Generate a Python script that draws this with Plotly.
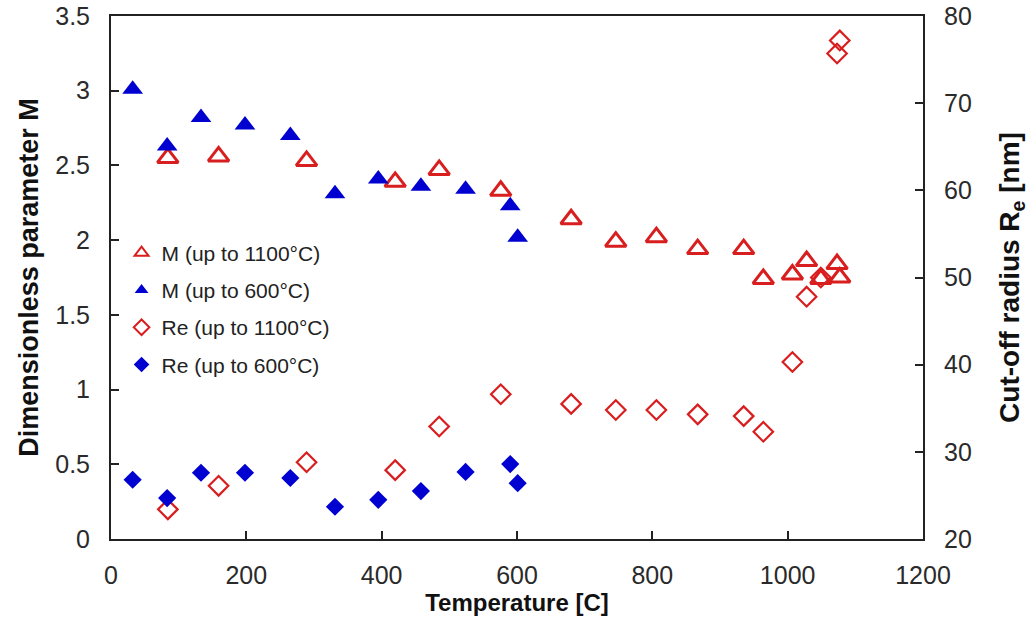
import plotly.graph_objects as go

# Data
T_1100 = [84, 159, 289, 420, 485, 576, 680, 746, 806, 867, 935, 964, 1007, 1028, 1049, 1073, 1077]
M_1100 = [2.55, 2.56, 2.53, 2.39, 2.47, 2.33, 2.14, 1.99, 2.02, 1.94, 1.94, 1.74, 1.77, 1.86, 1.74, 1.84, 1.75]
Re_1100 = [23.4, 26.1, 28.8, 27.9, 32.9, 36.6, 35.5, 34.8, 34.8, 34.3, 34.1, 32.3, 40.3, 47.8, 50.0, 75.7, 77.2]

T_600 = [32, 83, 133, 198, 265, 331, 395, 458, 524, 590, 601]
M_600 = [3.01, 2.63, 2.82, 2.77, 2.70, 2.31, 2.41, 2.36, 2.34, 2.23, 2.02]
Re_600 = [26.8, 24.7, 27.6, 27.6, 27.0, 23.7, 24.5, 25.5, 27.7, 28.6, 26.4]

x_ticks = [0, 200, 400, 600, 800, 1000, 1200]
y_ticks = [0, 0.5, 1, 1.5, 2, 2.5, 3, 3.5]
y2_ticks = [20, 30, 40, 50, 60, 70, 80]

RED = "#d81e1e"
BLUE = "#0000d0"
FONT = "Arial, Liberation Sans, sans-serif"

fig = go.Figure()
fig.add_trace(go.Scatter(
    x=T_1100, y=M_1100, mode="markers", name="M (up to 1100°C)", legendgroup="a",
    marker=dict(symbol="triangle-up-open", size=18, color=RED, line=dict(width=3, color=RED)),
))
fig.add_trace(go.Scatter(
    x=T_600, y=M_600, mode="markers", name="M (up to 600°C)", legendgroup="b",
    marker=dict(symbol="triangle-up", size=18, color=BLUE),
))
fig.add_trace(go.Scatter(
    x=T_1100, y=Re_1100, mode="markers", name="Re (up to 1100°C)", legendgroup="c", yaxis="y2",
    marker=dict(symbol="diamond-open", size=15, color=RED, line=dict(width=2.2, color=RED)),
))
fig.add_trace(go.Scatter(
    x=T_600, y=Re_600, mode="markers", name="Re (up to 600°C)", legendgroup="d", yaxis="y2",
    marker=dict(symbol="diamond", size=14, color=BLUE),
))

axis_common = dict(
    showgrid=False, zeroline=False, showline=True, linecolor="#222", linewidth=2,
    ticks="inside", ticklen=8, tickwidth=1.5, tickcolor="#222", automargin=False,
    ticklabeloverflow="allow",
    tickfont=dict(family=FONT, size=25, color="#2a2a2a"),
)

fig.update_layout(
    width=1029, height=623,
    paper_bgcolor="white", plot_bgcolor="white",
    margin=dict(l=111, r=106, t=16, b=84),
    font=dict(family=FONT, color="#222"),
    xaxis=dict(
        range=[0, 1200], tickvals=x_ticks, mirror=True, ticklabelstandoff=13,
        title=dict(text="<b>Temperature [C]</b>", font=dict(family=FONT, size=24, color="#111"), standoff=4),
        **axis_common,
    ),
    yaxis=dict(
        range=[0, 3.5], tickvals=y_ticks, ticklabelstandoff=14,
        title=dict(text="<b>Dimensionless parameter M</b>", font=dict(family=FONT, size=27, color="#111"), standoff=9),
        **axis_common,
    ),
    yaxis2=dict(
        range=[20, 80], tickvals=y2_ticks, overlaying="y", side="right", ticklabelstandoff=14,
        title=dict(text="<b>Cut-off radius R<sub>e</sub> [nm]</b>", font=dict(family=FONT, size=28, color="#111"), standoff=40),
        **axis_common,
    ),
    legend=dict(
        x=0.013, y=0.586, xanchor="left", yanchor="top",
        bgcolor="rgba(255,255,255,0)", tracegroupgap=7,
        font=dict(family=FONT, size=21, color="#222"),
        itemsizing="constant",
    ),
    showlegend=True,
)

fig.write_html(
    "out.html",
    config={"displayModeBar": False},
    post_script="document.body.style.margin='0';",
)
